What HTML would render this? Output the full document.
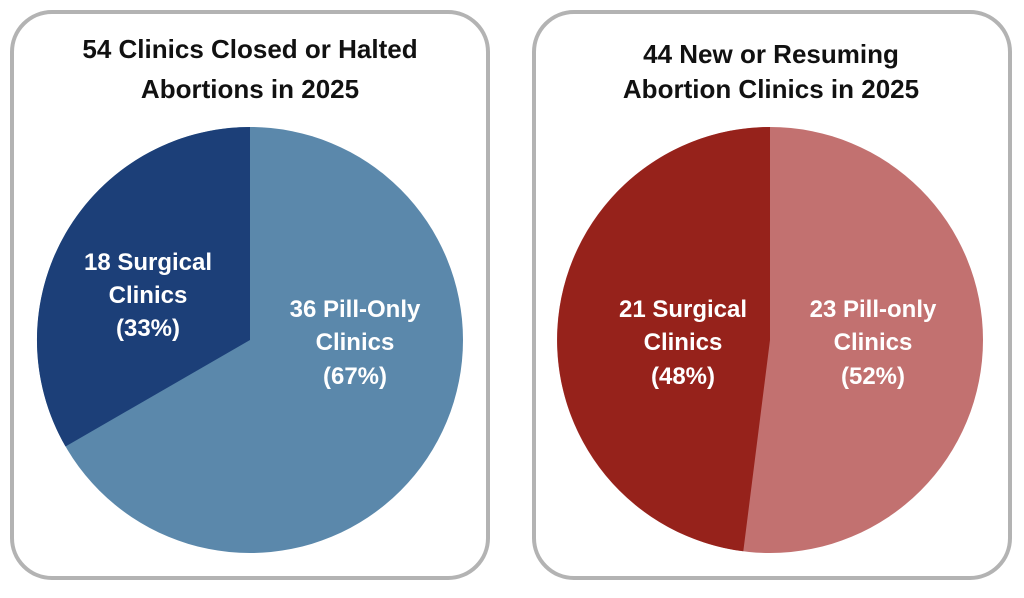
<!DOCTYPE html>
<html><head><meta charset="utf-8"><style>
body{margin:0;background:#fff;width:1024px;height:593px;overflow:hidden;font-family:"Liberation Sans",sans-serif}
</style></head><body>
<svg width="1024" height="593" viewBox="0 0 1024 593" xmlns="http://www.w3.org/2000/svg">
<rect x="12" y="12" width="476" height="566" rx="40" fill="#fff" stroke="#b3b3b3" stroke-width="4"/>
<rect x="534" y="12" width="476" height="566" rx="40" fill="#fff" stroke="#b3b3b3" stroke-width="4"/>
<g font-family="Liberation Sans, sans-serif" font-weight="bold" text-anchor="middle">
<text x="250" y="58" font-size="26" fill="#111">54 Clinics Closed or Halted</text>
<text x="250" y="98" font-size="26" fill="#111">Abortions in 2025</text>
<text x="771" y="63" font-size="26" fill="#111">44 New or Resuming</text>
<text x="771" y="98" font-size="26" fill="#111">Abortion Clinics in 2025</text>
</g>
<circle cx="250" cy="340" r="213" fill="#5b88ab"/>
<path d="M250 340 L250 127 A213 213 0 0 0 65.5 446.5 Z" fill="#1c3f78"/>
<circle cx="770" cy="340" r="213" fill="#c27170"/>
<path d="M770 340 L770 127 A213 213 0 0 0 743.3 551.3 Z" fill="#96221b"/>
<g font-family="Liberation Sans, sans-serif" font-weight="bold" text-anchor="middle" fill="#fff" font-size="24">
<text x="148" y="270">18 Surgical</text>
<text x="148" y="303">Clinics</text>
<text x="148" y="336">(33%)</text>
<text x="355" y="317">36 Pill-Only</text>
<text x="355" y="350">Clinics</text>
<text x="355" y="384">(67%)</text>
<text x="683" y="317">21 Surgical</text>
<text x="683" y="350">Clinics</text>
<text x="683" y="384">(48%)</text>
<text x="873" y="317">23 Pill-only</text>
<text x="873" y="350">Clinics</text>
<text x="873" y="384">(52%)</text>
</g>
</svg>
</body></html>
